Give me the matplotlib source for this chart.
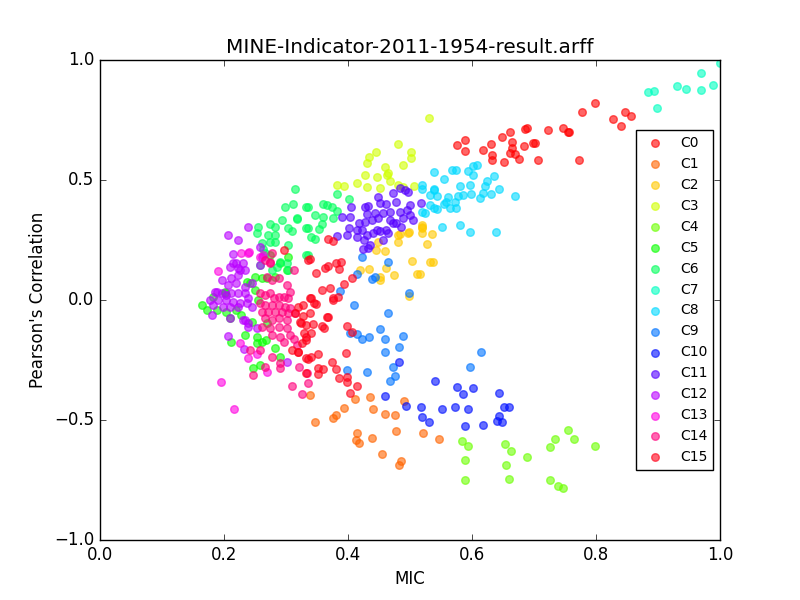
import numpy as np
import matplotlib
matplotlib.use('Agg')
import matplotlib.pyplot as plt

# (MIC, Pearson) pairs, one list per cluster
c0 = [(0.575, 0.646), (0.588, 0.665), (0.589, 0.619), (0.617, 0.624), (0.631, 0.650),
      (0.633, 0.606), (0.633, 0.582), (0.649, 0.678), (0.652, 0.574), (0.662, 0.699),
      (0.665, 0.658), (0.665, 0.632), (0.662, 0.611), (0.669, 0.607), (0.675, 0.586),
      (0.684, 0.642), (0.686, 0.712), (0.688, 0.715), (0.698, 0.653), (0.702, 0.653),
      (0.707, 0.582), (0.723, 0.708), (0.746, 0.715), (0.755, 0.701), (0.757, 0.699),
      (0.773, 0.583), (0.777, 0.782), (0.799, 0.819), (0.828, 0.753), (0.840, 0.724),
      (0.847, 0.782), (0.856, 0.765)]
c1 = [(0.339, -0.397), (0.347, -0.510), (0.375, -0.493), (0.380, -0.481), (0.394, -0.451),
      (0.412, -0.414), (0.436, -0.406), (0.441, -0.456), (0.459, -0.476), (0.475, -0.481),
      (0.491, -0.422), (0.478, -0.547), (0.415, -0.556), (0.413, -0.583), (0.417, -0.594),
      (0.438, -0.576), (0.455, -0.643), (0.486, -0.672), (0.482, -0.689), (0.521, -0.556),
      (0.546, -0.579)]
c2 = [(0.445, 0.210), (0.459, 0.204), (0.420, 0.125), (0.434, 0.131), (0.451, 0.097),
      (0.452, 0.083), (0.462, 0.132), (0.474, 0.104), (0.499, 0.017), (0.504, 0.163),
      (0.512, 0.108), (0.533, 0.157), (0.537, 0.158), (0.527, 0.233), (0.535, 0.275),
      (0.519, 0.313), (0.520, 0.299), (0.499, 0.285), (0.496, 0.281), (0.484, 0.274),
      (0.480, 0.243), (0.481, 0.271), (0.449, 0.243), (0.519, 0.306), (0.520, 0.278),
      (0.516, 0.108)]
c3 = [(0.531, 0.757), (0.480, 0.649), (0.445, 0.615), (0.434, 0.594), (0.430, 0.569),
      (0.502, 0.615), (0.501, 0.593), (0.489, 0.561), (0.460, 0.553), (0.465, 0.531),
      (0.463, 0.519), (0.428, 0.519), (0.447, 0.511), (0.468, 0.494), (0.415, 0.488),
      (0.383, 0.478), (0.394, 0.474), (0.430, 0.469), (0.451, 0.465), (0.480, 0.478),
      (0.489, 0.469), (0.507, 0.475)]
c4 = [(0.584, -0.589), (0.593, -0.610), (0.588, -0.668), (0.588, -0.751), (0.654, -0.601),
      (0.663, -0.631), (0.655, -0.689), (0.660, -0.747), (0.689, -0.656), (0.726, -0.614),
      (0.734, -0.581), (0.755, -0.543), (0.765, -0.581), (0.799, -0.610), (0.725, -0.751),
      (0.738, -0.776), (0.746, -0.785)]
c5 = [(0.164, -0.021), (0.172, -0.042), (0.188, -0.042), (0.202, 0.028), (0.204, -0.049),
      (0.220, -0.042), (0.228, -0.063), (0.234, -0.146), (0.245, -0.090), (0.237, 0.076),
      (0.250, 0.097), (0.261, 0.090), (0.274, 0.188), (0.290, 0.153), (0.301, 0.125),
      (0.304, 0.181), (0.282, 0.097), (0.255, 0.000), (0.253, -0.153), (0.210, -0.076),
      (0.212, -0.174), (0.253, -0.181), (0.261, -0.174), (0.268, -0.167), (0.282, -0.201),
      (0.290, -0.236), (0.258, -0.271), (0.246, -0.285), (0.269, -0.097), (0.183, 0.014),
      (0.202, 0.035), (0.242, 0.069), (0.250, 0.042), (0.269, 0.090)]
c6 = [(0.298, 0.389), (0.312, 0.400), (0.333, 0.389), (0.317, 0.340), (0.333, 0.299),
      (0.304, 0.299), (0.309, 0.289), (0.274, 0.317), (0.282, 0.306), (0.293, 0.333),
      (0.255, 0.306), (0.253, 0.278), (0.271, 0.271), (0.282, 0.271), (0.274, 0.243),
      (0.282, 0.243), (0.261, 0.236), (0.263, 0.211), (0.266, 0.194), (0.304, 0.229),
      (0.290, 0.160), (0.301, 0.153), (0.304, 0.125), (0.285, 0.139), (0.277, 0.125),
      (0.258, 0.146), (0.333, 0.188), (0.315, 0.461), (0.336, 0.389), (0.360, 0.400),
      (0.366, 0.396), (0.374, 0.389), (0.382, 0.372), (0.317, 0.338), (0.347, 0.354),
      (0.360, 0.347), (0.358, 0.317), (0.376, 0.340), (0.336, 0.299), (0.354, 0.294),
      (0.341, 0.264), (0.347, 0.253), (0.383, 0.442), (0.401, 0.421), (0.336, 0.188)]
c7 = [(0.884, 0.865), (0.893, 0.869), (0.899, 0.799), (0.931, 0.892), (0.945, 0.878),
      (0.970, 0.944), (0.970, 0.874), (0.989, 0.896), (1.000, 0.986)]
c8 = [(0.538, 0.532), (0.567, 0.543), (0.574, 0.540), (0.593, 0.536), (0.602, 0.560),
      (0.608, 0.563), (0.602, 0.519), (0.635, 0.515), (0.624, 0.496), (0.555, 0.503),
      (0.580, 0.474), (0.597, 0.478), (0.621, 0.475), (0.644, 0.461), (0.539, 0.461),
      (0.532, 0.436), (0.543, 0.432), (0.562, 0.429), (0.577, 0.432), (0.586, 0.436),
      (0.599, 0.440), (0.618, 0.446), (0.631, 0.440), (0.613, 0.424), (0.670, 0.432),
      (0.558, 0.408), (0.573, 0.408), (0.555, 0.401), (0.565, 0.382), (0.574, 0.382),
      (0.538, 0.382), (0.543, 0.378), (0.524, 0.361), (0.519, 0.479), (0.519, 0.461),
      (0.551, 0.304), (0.581, 0.311), (0.597, 0.282), (0.639, 0.282), (0.538, 0.458),
      (0.532, 0.396), (0.519, 0.368)]
c9 = [(0.409, -0.021), (0.464, -0.056), (0.403, -0.139), (0.414, -0.143), (0.423, -0.163),
      (0.434, -0.154), (0.452, -0.122), (0.459, -0.164), (0.488, -0.150), (0.459, -0.218),
      (0.482, -0.196), (0.472, -0.281), (0.476, -0.318), (0.467, -0.338), (0.431, -0.300),
      (0.398, -0.292), (0.423, 0.178), (0.464, 0.158), (0.414, 0.107), (0.438, 0.086),
      (0.444, 0.097), (0.387, 0.038), (0.499, 0.028), (0.615, -0.218), (0.596, -0.281)]
c10 = [(0.483, -0.260), (0.459, -0.401), (0.494, -0.443), (0.517, -0.447), (0.520, -0.489),
       (0.530, -0.510), (0.541, -0.339), (0.552, -0.456), (0.573, -0.446), (0.576, -0.364),
       (0.586, -0.393), (0.602, -0.368), (0.643, -0.389), (0.594, -0.456), (0.652, -0.444),
       (0.659, -0.447), (0.644, -0.483), (0.640, -0.506), (0.649, -0.510), (0.588, -0.524),
       (0.618, -0.522)]
c11 = [(0.449, 0.431), (0.473, 0.444), (0.484, 0.465), (0.492, 0.458), (0.497, 0.451),
       (0.518, 0.403), (0.451, 0.403), (0.462, 0.400), (0.478, 0.410), (0.500, 0.396),
       (0.495, 0.375), (0.484, 0.368), (0.468, 0.368), (0.456, 0.361), (0.444, 0.361),
       (0.433, 0.392), (0.427, 0.389), (0.405, 0.386), (0.391, 0.347), (0.404, 0.344),
       (0.431, 0.357), (0.417, 0.319), (0.427, 0.326), (0.438, 0.333), (0.449, 0.340),
       (0.468, 0.333), (0.478, 0.319), (0.489, 0.340), (0.500, 0.354), (0.505, 0.333),
       (0.486, 0.306), (0.473, 0.319), (0.462, 0.292), (0.452, 0.289), (0.447, 0.292),
       (0.441, 0.278), (0.430, 0.271), (0.422, 0.292), (0.414, 0.292), (0.401, 0.299),
       (0.398, 0.271), (0.414, 0.264), (0.425, 0.250), (0.435, 0.229), (0.424, 0.211),
       (0.433, 0.215), (0.457, 0.250), (0.465, 0.278), (0.382, 0.267)]
c12 = [(0.215, 0.192), (0.215, 0.156), (0.231, 0.156), (0.210, 0.139), (0.223, 0.132),
       (0.234, 0.125), (0.258, 0.146), (0.261, 0.181), (0.196, 0.083), (0.212, 0.090),
       (0.223, 0.104), (0.207, 0.063), (0.220, 0.069), (0.234, 0.056), (0.245, 0.069),
       (0.185, 0.035), (0.196, 0.028), (0.204, 0.021), (0.212, 0.028), (0.223, 0.028),
       (0.234, 0.028), (0.239, 0.007), (0.177, 0.000), (0.191, 0.000), (0.204, 0.000),
       (0.215, -0.007), (0.226, -0.014), (0.237, -0.014), (0.183, -0.021), (0.199, -0.028),
       (0.210, -0.028), (0.223, -0.028), (0.245, -0.028), (0.180, -0.063), (0.210, -0.076),
       (0.231, -0.083), (0.239, -0.097), (0.253, -0.118), (0.207, 0.271), (0.223, 0.250),
       (0.239, 0.303), (0.219, 0.156), (0.226, 0.125), (0.258, 0.222), (0.188, 0.035),
       (0.207, -0.150), (0.233, -0.206), (0.234, -0.083), (0.239, -0.111), (0.302, -0.258)]
c13 = [(0.228, 0.194), (0.241, 0.199), (0.258, 0.181), (0.263, 0.188), (0.195, -0.342),
       (0.216, -0.454), (0.238, -0.243), (0.253, -0.225), (0.226, -0.178), (0.270, -0.300),
       (0.239, 0.194), (0.190, 0.120)]
c14 = [(0.258, 0.028), (0.266, 0.021), (0.274, 0.028), (0.280, 0.007), (0.288, 0.014),
       (0.296, 0.014), (0.304, 0.007), (0.258, -0.014), (0.266, -0.021), (0.277, -0.021),
       (0.288, -0.021), (0.298, -0.028), (0.306, -0.035), (0.261, -0.049), (0.271, -0.049),
       (0.282, -0.049), (0.293, -0.049), (0.304, -0.056), (0.266, -0.076), (0.277, -0.083),
       (0.288, -0.076), (0.301, -0.083), (0.261, -0.111), (0.274, -0.118), (0.288, -0.111),
       (0.301, -0.118), (0.306, -0.146), (0.277, -0.146), (0.290, -0.153), (0.269, 0.097),
       (0.277, 0.083), (0.288, 0.090), (0.301, 0.063), (0.306, 0.035), (0.274, 0.153),
       (0.266, 0.167), (0.242, -0.208), (0.258, -0.208), (0.277, -0.236), (0.290, -0.264),
       (0.266, -0.278), (0.247, -0.313), (0.296, -0.174), (0.309, -0.358), (0.325, -0.392),
       (0.290, -0.285), (0.315, -0.056), (0.313, -0.164), (0.334, -0.306), (0.336, -0.347),
       (0.277, 0.194), (0.274, 0.160), (0.313, 0.125), (0.317, -0.188), (0.321, -0.278)]
c15 = [(0.320, -0.028), (0.327, -0.021), (0.345, -0.014), (0.349, -0.017), (0.375, 0.000),
       (0.339, -0.053), (0.328, -0.067), (0.324, -0.097), (0.343, -0.100), (0.341, -0.136),
       (0.358, -0.108), (0.362, -0.118), (0.367, -0.072), (0.329, -0.139), (0.333, -0.153),
       (0.325, -0.181), (0.320, -0.218), (0.336, -0.247), (0.341, -0.239), (0.352, -0.226),
       (0.352, -0.285), (0.352, -0.308), (0.360, -0.288), (0.374, -0.260), (0.380, -0.289),
       (0.386, -0.326), (0.398, -0.319), (0.399, -0.343), (0.396, -0.222), (0.398, -0.107),
       (0.407, -0.132), (0.414, -0.358), (0.404, -0.389), (0.367, 0.253), (0.375, 0.246),
       (0.338, 0.169), (0.348, 0.111), (0.363, 0.135), (0.367, 0.142), (0.385, 0.128),
       (0.389, 0.160), (0.380, 0.153), (0.394, 0.065), (0.407, 0.090), (0.358, 0.042),
       (0.371, 0.049), (0.375, 0.007), (0.384, 0.014), (0.341, 0.007), (0.366, -0.069),
       (0.296, 0.208), (0.336, 0.167), (0.339, 0.007), (0.315, -0.056), (0.323, -0.090),
       (0.333, -0.104), (0.333, -0.167), (0.309, -0.208), (0.320, -0.215), (0.333, -0.243),
       (0.333, -0.306)]

clusters = [c0, c1, c2, c3, c4, c5, c6, c7, c8, c9, c10, c11, c12, c13, c14, c15]
labels = ['C%d' % i for i in range(len(clusters))]

plt.style.use('classic')
fig = plt.figure(figsize=(8, 6), dpi=100, facecolor='white')
ax = fig.add_subplot(111)

colors = plt.cm.hsv(np.linspace(0, 1, len(clusters)))
for pts, col, lab in zip(clusters, colors, labels):
    arr = np.array(pts)
    ax.scatter(arr[:, 0], arr[:, 1], s=30, color=col, alpha=0.6,
               edgecolors='face', label=lab)

ax.set_xlim(0.0, 1.0)
ax.set_ylim(-1.0, 1.0)
ax.set_xticks(np.arange(0, 1.01, 0.2))
ax.set_yticks([-1.0, -0.5, 0.0, 0.5, 1.0])
ax.set_xlabel('MIC')
ax.set_ylabel("Pearson's Correlation")
ax.set_title('MINE-Indicator-2011-1954-result.arff')
ax.legend(loc='center right', scatterpoints=1, fontsize=10)

fig.savefig('out.png', dpi=100, facecolor='white')
